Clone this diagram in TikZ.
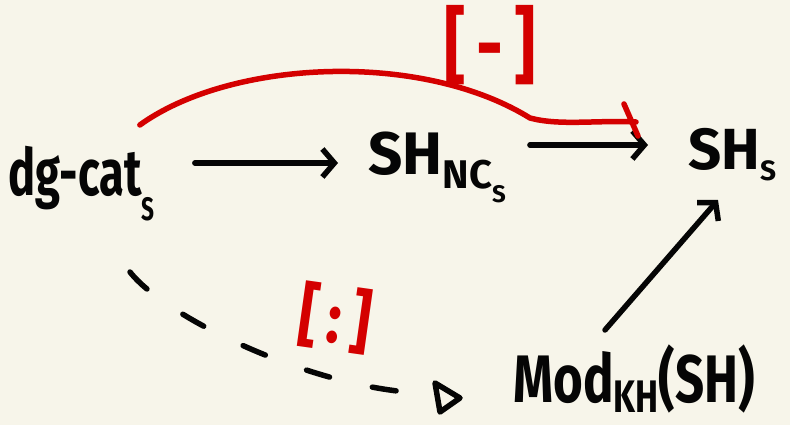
\documentclass[tikz,border=0pt]{standalone}
\usepackage{fontspec}
\setmainfont{Fira Sans}
\usetikzlibrary{arrows.meta}
\definecolor{bg}{HTML}{F7F5EA}
\definecolor{ink}{HTML}{050505}
\definecolor{redink}{HTML}{D40000}
\newcommand\fs[1]{\fontsize{#1}{#1}\selectfont}
\begin{document}
\begin{tikzpicture}[x=1pt,y=-1pt,
  pen/.style={line width=5.5pt, line cap=round, line join=round, draw=ink},
  redpen/.style={line width=5.5pt, line cap=round, line join=round, draw=redink},
  barb/.style={-{Straight Barb[length=12pt,width=28pt]}},
  lbl/.style={anchor=base west, inner sep=0pt, text=ink, font=\bfseries},
  redlbl/.style={inner sep=0pt, text=redink, font=\bfseries}]
\fill[bg] (0,0) rectangle (790,425);
\useasboundingbox (0,0) rectangle (790,425);

\node[lbl] (dg) at (8,196) {\scalebox{0.87}[1.25]{\fs{52}dg-cat\raisebox{-20pt}{\fs{26}S}}};
\node[lbl] (shnc) at (368,175) {\fs{60}SH\raisebox{-14pt}{\fs{40}NC\raisebox{-14pt}{\fs{24}S}}};
\node[lbl] (sh) at (688,170) {\fs{58}SH\raisebox{-10pt}{\fs{28}S}};
\node[lbl] (mod) at (513,402) {\scalebox{0.91}[1.2]{\fs{56}Mod\raisebox{-9pt}{\fs{38}KH}\fs{56}(SH)}};

\node[redlbl] (lminus) at (490,45) {\scalebox{1.1}[1.4]{\fs{60}[\,-\,]}};
\node[redlbl, rotate=-8] (lcolon) at (335,318) {\scalebox{1.05}[1.25]{\fs{56}[\,:\,]}};

% dg-cat -> SH_nc
\draw[pen,barb] ([xshift=40pt,yshift=33pt]dg.base east) -- ([xshift=-30pt,yshift=12pt]shnc.base west);
% SH_nc -> SH
\draw[pen,barb] ([xshift=24pt,yshift=30pt]shnc.base east) -- ([xshift=-40pt,yshift=25pt]sh.base west);
% red curved arrow
\draw[redpen] ([xshift=-15pt,yshift=71pt]dg.base east)
   .. controls +(90,-65) and +(-110,-68) .. ([xshift=24pt,yshift=57pt]shnc.base east)
   .. controls +(30,8) and +(-40,-2) .. ([xshift=-52pt,yshift=48pt]sh.base west);
\draw[redpen] ([xshift=-64pt,yshift=66pt]sh.base west) -- ([xshift=-50pt,yshift=34pt]sh.base west);
% dashed arrow
\draw[pen,dash pattern=on 24pt off 44pt] ([xshift=122pt,yshift=-76pt]dg.base west)
   .. controls +(35,45) and +(-110,-5) .. ([xshift=-92pt,yshift=9pt]mod.base west);
\draw[pen] ([xshift=-78pt,yshift=19pt]mod.base west) -- ([xshift=-53pt,yshift=4pt]mod.base west)
   -- ([xshift=-73pt,yshift=-10pt]mod.base west) -- cycle;
% Mod -> SH
\draw[pen,barb] ([xshift=92pt,yshift=72pt]mod.base west) -- ([xshift=30pt,yshift=-30pt]sh.base west);
\end{tikzpicture}
\end{document}
